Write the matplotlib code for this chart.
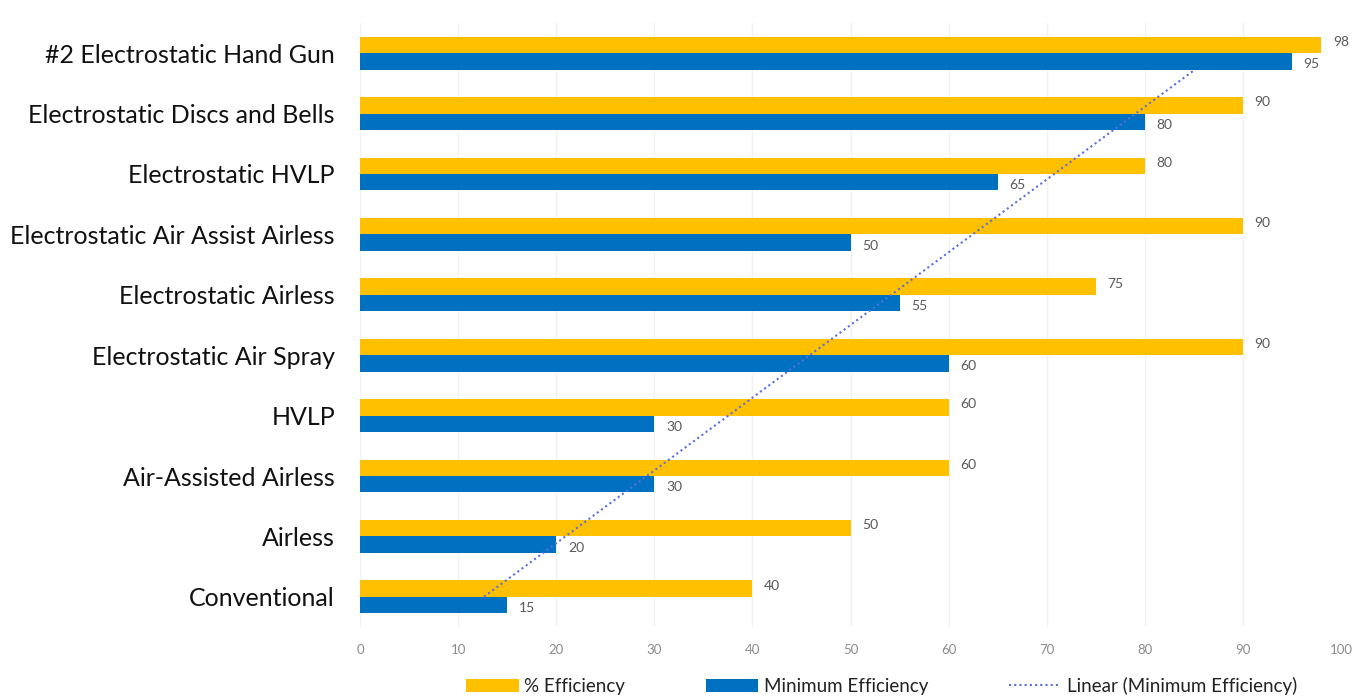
import matplotlib.pyplot as plt
import numpy as np

categories = ['Conventional', 'Airless', 'Air-Assisted Airless', 'HVLP',
              'Electrostatic Air Spray', 'Electrostatic Airless',
              'Electrostatic Air Assist Airless', 'Electrostatic HVLP',
              'Electrostatic Discs and Bells', '#2 Electrostatic Hand Gun']
pct_eff = [40, 50, 60, 60, 90, 75, 90, 80, 90, 98]
min_eff = [15, 20, 30, 30, 60, 55, 50, 65, 80, 95]
xticks = [0, 10, 20, 30, 40, 50, 60, 70, 80, 90, 100]

yellow = '#FFC000'
blue = '#0070C0'
trend_col = '#5b6ee0'

plt.rcParams['font.family'] = ['Lato', 'DejaVu Sans']

fig = plt.figure(figsize=(13.67, 7), dpi=100)
ax = fig.add_axes([360 / 1367, 1 - 627 / 700, 981 / 1367, 604 / 700])

y = np.arange(len(categories))
h = 0.27
off = 0.135
b1 = ax.barh(y + off, pct_eff, height=h, color=yellow, label='% Efficiency', zorder=2)
b2 = ax.barh(y - off, min_eff, height=h, color=blue, label='Minimum Efficiency', zorder=2)

for yi, v in zip(y, pct_eff):
    ax.text(v + 1.2, yi + off + 0.05, str(v), va='center', ha='left', fontsize=10, color='#595959')
for yi, v in zip(y, min_eff):
    ax.text(v + 1.2, yi - off - 0.05, str(v), va='center', ha='left', fontsize=10, color='#595959')

# linear trendline of minimum efficiency against category position
k, b = np.polyfit(y + 1, min_eff, 1)
t = np.array([1.0, 9.72])
ln, = ax.plot(k * t + b, t - 1.0, linestyle=(0, (1, 1.5)), color=trend_col,
              lw=1.5, label='Linear (Minimum Efficiency)', zorder=3)

ax.set_xlim(0, 100)
ax.set_ylim(-0.5, 9.5)
ax.set_xticks(xticks)
ax.set_yticks(y)
ax.set_yticklabels(categories, fontsize=18, color='#111111')
ax.tick_params(axis='y', length=0, pad=18)
ax.tick_params(axis='x', length=0, pad=12, labelsize=9.5, labelcolor='#8c8c8c')
ax.grid(axis='x', color='#f2f2f2', lw=1, zorder=0)
for s in ax.spines.values():
    s.set_visible(False)

fig.legend(handles=[b1, b2, ln], loc='center', bbox_to_anchor=(0.645, 1 - 686 / 700), ncol=3,
           frameon=False, fontsize=13.5, handlelength=2.8, handleheight=0.7,
           handletextpad=0.3, columnspacing=4.3, labelcolor='#222222')

fig.savefig('out.png', dpi=100)
